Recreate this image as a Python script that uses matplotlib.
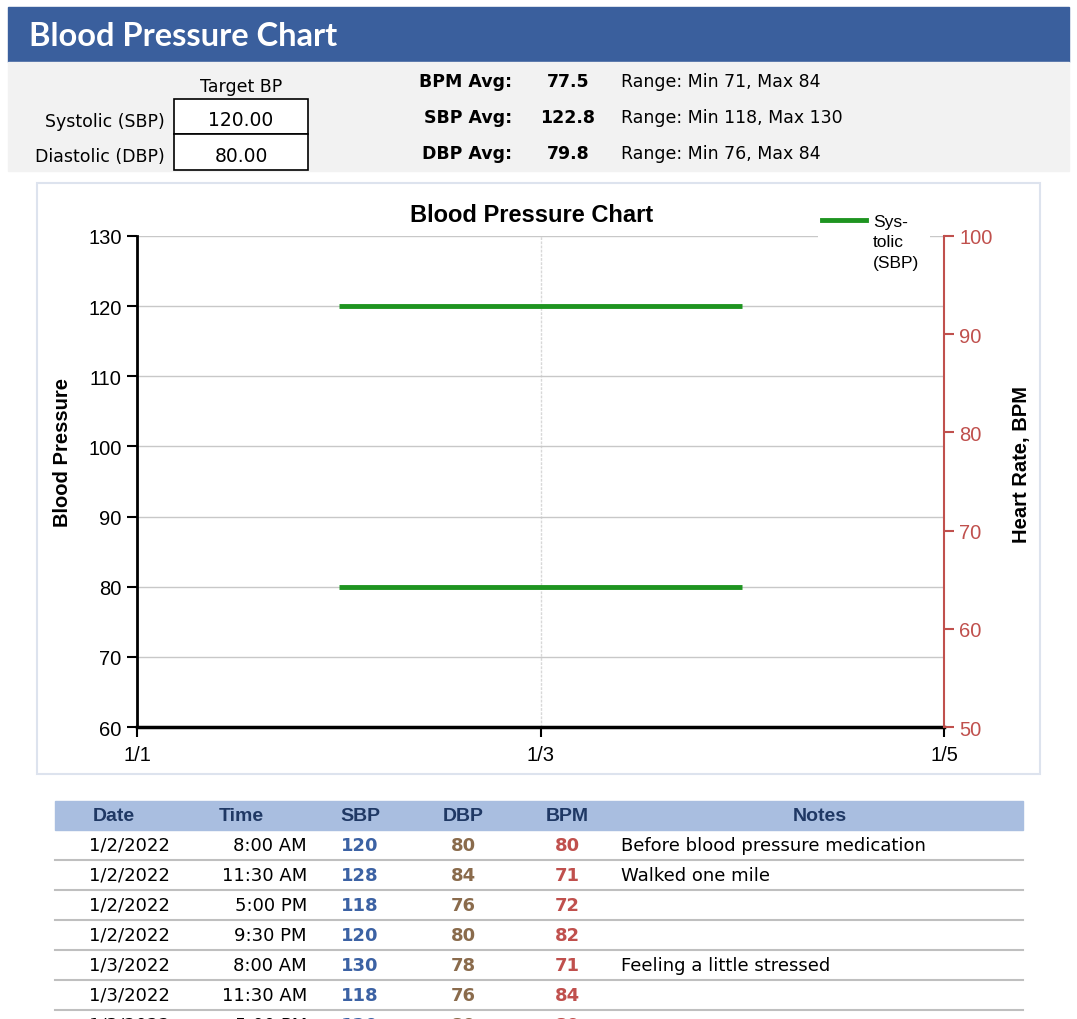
import datetime as dt
import matplotlib
matplotlib.use('Agg')
import matplotlib.pyplot as plt
from matplotlib.patches import Rectangle

# summary values shown above the chart
target_sbp = 120.00
target_dbp = 80.00
avg_labels = ['BPM Avg:', 'SBP Avg:', 'DBP Avg:']
avg_values = ['77.5', '122.8', '79.8']
avg_ranges = ['Range: Min 71, Max 84', 'Range: Min 118, Max 130', 'Range: Min 76, Max 84']

# target lines drawn in the chart
target_start = dt.datetime(2022, 1, 2)
target_end = dt.datetime(2022, 1, 4)
x_ticks = [dt.datetime(2022, 1, 1), dt.datetime(2022, 1, 3), dt.datetime(2022, 1, 5)]
x_tick_labels = ['1/1', '1/3', '1/5']

# log table
dates = ['1/2/2022', '1/2/2022', '1/2/2022', '1/2/2022', '1/3/2022', '1/3/2022', '1/3/2022']
times = ['8:00 AM', '11:30 AM', '5:00 PM', '9:30 PM', '8:00 AM', '11:30 AM', '5:00 PM']
sbp = [120, 128, 118, 120, 130, 118, 120]
dbp = [80, 84, 76, 80, 78, 76, 80]
bpm = [80, 71, 72, 82, 71, 84, 80]
notes = ['Before blood pressure medication', 'Walked one mile', '', '',
         'Feeling a little stressed', '', '']

W, H = 1077, 1020
blue = '#3A5F9D'
red = '#C0504D'
green = '#1E9420'

fig = plt.figure(figsize=(W / 100, H / 100), dpi=100)
bg = fig.add_axes([0, 0, 1, 1])
bg.set_xlim(0, W)
bg.set_ylim(H, 0)
bg.axis('off')

# header
bg.add_patch(Rectangle((8, 8), 1061, 55, color=blue))
bg.text(29, 36, 'Blood Pressure Chart', color='white', fontsize=23.5, fontweight='bold',
        family='Lato', va='center')
bg.add_patch(Rectangle((8, 63), 1061, 109, color='#F2F2F2'))

pf = dict(family='DejaVu Sans', fontsize=12.5, va='center')
bg.text(241, 87, 'Target BP', ha='center', **pf)
bg.text(165, 122, 'Systolic (SBP)', ha='right', **pf)
bg.text(165, 157, 'Diastolic (DBP)', ha='right', **pf)
bg.add_patch(Rectangle((174, 100), 134, 35, facecolor='white', edgecolor='black', lw=1.2))
bg.add_patch(Rectangle((174, 135), 134, 36, facecolor='white', edgecolor='black', lw=1.2))
bg.text(241, 120, f'{target_sbp:.2f}', ha='center', **dict(pf, fontsize=13.5))
bg.text(241, 156, f'{target_dbp:.2f}', ha='center', **dict(pf, fontsize=13.5))
for i in range(3):
    y = 82 + 36 * i
    bg.text(512, y, avg_labels[i], ha='right', fontweight='bold', **pf)
    bg.text(568, y, avg_values[i], ha='center', fontweight='bold', **pf)
    bg.text(621, y, avg_ranges[i], ha='left', **pf)

# chart panel
bg.add_patch(Rectangle((37, 184), 1003, 591, facecolor='white', edgecolor='#DDE3EE', lw=1.5))

ax = fig.add_axes([137 / W, 1 - 728 / H, (944 - 137) / W, (728 - 237) / H])
ax.set_zorder(2)
ax.patch.set_alpha(0)
ax.hlines([target_sbp, target_dbp], target_start, target_end, color=green, lw=3.5, zorder=3)
ax.set_xlim(x_ticks[0], x_ticks[-1])
ax.set_ylim(60, 130)
ax.set_yticks(range(60, 131, 10))
ax.set_xticks(x_ticks)
ax.set_xticklabels(x_tick_labels)
ax.grid(axis='y', color='#C8C8C8', lw=1)
ax.axvline(x_ticks[1], color='#D8D8D8', lw=1, ls=(0, (2, 1)), zorder=0)
for s in ['top', 'right']:
    ax.spines[s].set_visible(False)
ax.spines['left'].set_linewidth(2)
ax.spines['bottom'].set_linewidth(2.5)
ax.tick_params(axis='both', labelsize=14.5, width=1.5, length=7, pad=4)
ax.tick_params(axis='x', pad=6)
for lab in ax.get_xticklabels() + ax.get_yticklabels():
    lab.set_family('Liberation Sans')
ax.set_ylabel('Blood Pressure', fontsize=14.5, fontweight='bold', family='Liberation Sans')
ax.yaxis.set_label_coords(-0.08, 0.562)
ax.set_title('Blood Pressure Chart', fontsize=17, fontweight='bold', family='Liberation Sans',
             pad=11, x=0.489)

ax2 = ax.twinx()
ax2.set_ylim(50, 100)
ax2.set_yticks(range(50, 101, 10))
for s in ['top', 'left', 'bottom']:
    ax2.spines[s].set_visible(False)
ax2.spines['right'].set_color(red)
ax2.spines['right'].set_linewidth(1.5)
ax2.tick_params(axis='y', colors=red, labelsize=14.5, width=1.5, length=7, pad=4)
for lab in ax2.get_yticklabels():
    lab.set_family('Liberation Sans')
ax2.set_ylabel('Heart Rate, BPM', fontsize=14.5, fontweight='bold', family='Liberation Sans')
ax2.yaxis.set_label_coords(1.084, 0.537)

# legend box (only the systolic entry is shown)
ax2.add_patch(Rectangle((818, 208), 112, 64, facecolor='white', edgecolor='none',
                        transform=bg.transData, clip_on=False, zorder=5))
ax2.plot([822, 866], [221, 221], color=green, lw=3.5, transform=bg.transData,
         clip_on=False, zorder=6)
ax2.text(873, 215, 'Sys-\ntolic\n(SBP)', transform=bg.transData, va='top', ha='left',
         fontsize=12.5, family='Liberation Sans', linespacing=1.45, zorder=6)

# log table
bg.add_patch(Rectangle((55, 802), 968, 29, color='#A9BEE0'))
cols_x = [114, 241, 360, 463, 567, 820]
heads = ['Date', 'Time', 'SBP', 'DBP', 'BPM', 'Notes']
for x, h in zip(cols_x, heads):
    bg.text(x, 817, h, ha='center', va='center', fontsize=14, fontweight='bold',
            color='#1F3864', family='Liberation Sans')
tf = dict(family='DejaVu Sans', fontsize=13, va='center')
for i in range(len(dates)):
    y = 846 + 30 * i
    bg.text(129, y, dates[i], ha='center', **tf)
    bg.text(307, y, times[i], ha='right', **tf)
    bg.text(360, y, str(sbp[i]), ha='center', color='#3C62A4', fontweight='bold', **tf)
    bg.text(463, y, str(dbp[i]), ha='center', color='#8A6B4C', fontweight='bold', **tf)
    bg.text(567, y, str(bpm[i]), ha='center', color=red, fontweight='bold', **tf)
    bg.text(621, y, notes[i], ha='left', **tf)
    bg.plot([55, 1023], [y + 15, y + 15], color='#BFBFBF', lw=1.5)

fig.savefig('out.png', dpi=100)
